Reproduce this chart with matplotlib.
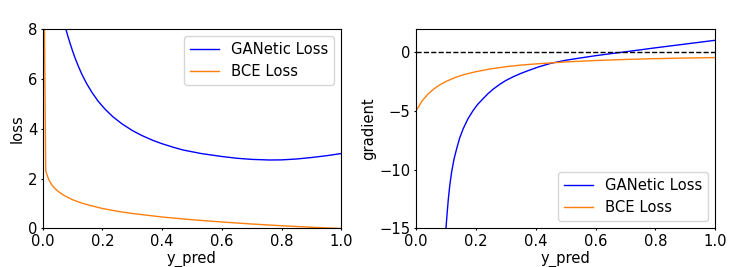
import matplotlib
matplotlib.use("Agg")
import matplotlib.pyplot as plt

# loss curves (left panel)
ganetic_x = [0.07, 0.077, 0.084, 0.091, 0.1, 0.108, 0.119, 0.131, 0.147, 0.164, 0.185,
             0.209, 0.235, 0.265, 0.3, 0.332, 0.37, 0.40, 0.44, 0.47, 0.53, 0.6,
             0.65, 0.7, 0.76, 0.8, 0.85, 0.9, 0.95, 1.0]
ganetic_loss = [8.4, 8.0, 7.7, 7.43, 7.1, 6.83, 6.5, 6.17, 5.8, 5.46, 5.1,
                4.77, 4.47, 4.19, 3.92, 3.72, 3.52, 3.39, 3.24, 3.14, 3.0, 2.88,
                2.81, 2.765, 2.74, 2.745, 2.78, 2.84, 2.91, 3.0]

bce_x = [0.0, 0.01, 0.02, 0.03, 0.04, 0.05, 0.07, 0.1, 0.13, 0.15, 0.2, 0.25, 0.3,
         0.4, 0.5, 0.6, 0.7, 0.8, 0.9, 1.0]
bce_loss = [16.0, 2.30, 1.96, 1.75, 1.61, 1.50, 1.33, 1.15, 1.02, 0.95, 0.80, 0.69, 0.60,
            0.46, 0.35, 0.26, 0.18, 0.11, 0.05, 0.0]

# gradient curves (right panel)
ganetic_gx = [0.09, 0.1, 0.104, 0.108, 0.113, 0.119, 0.127, 0.136, 0.146, 0.158,
              0.173, 0.19, 0.206, 0.224, 0.24, 0.258, 0.28, 0.30, 0.325, 0.35,
              0.38, 0.41, 0.45, 0.5, 0.55, 0.6, 0.65, 0.7, 0.75, 0.8, 0.85,
              0.9, 0.95, 1.0]
ganetic_grad = [-18.5, -15.0, -13.7, -12.5, -11.3, -10.2, -9.1, -8.2, -7.3, -6.5,
                -5.7, -5.0, -4.45, -3.97, -3.55, -3.15, -2.74, -2.42, -2.1, -1.82,
                -1.53, -1.26, -0.96, -0.70, -0.50, -0.31, -0.14, 0.02, 0.19, 0.36,
                0.52, 0.68, 0.84, 1.0]

bce_gx = [0.0, 0.02, 0.04, 0.06, 0.08, 0.1, 0.13, 0.16, 0.2, 0.25, 0.3, 0.35,
          0.4, 0.5, 0.6, 0.7, 0.8, 0.9, 1.0]
bce_grad = [-5.0, -4.17, -3.57, -3.13, -2.78, -2.5, -2.17, -1.92, -1.67, -1.43,
            -1.25, -1.11, -1.01, -0.84, -0.72, -0.63, -0.56, -0.51, -0.47]

plt.rcParams['font.size'] = 10.6
plt.rcParams['xtick.major.size'] = 1.5
plt.rcParams['ytick.major.size'] = 1.5
plt.rcParams['xtick.major.pad'] = 2.5
plt.rcParams['ytick.major.pad'] = 2.5

fig = plt.figure(figsize=(7.47, 2.67), dpi=100)
ax1 = fig.add_axes([0.0572, 0.1442, 0.3997, 0.749])
ax2 = fig.add_axes([0.5569, 0.1442, 0.4007, 0.749])

ax1.plot(ganetic_x, ganetic_loss, color='blue', lw=1.0, label='GANetic Loss')
ax1.plot(bce_x, bce_loss, color='tab:orange', lw=1.0, label='BCE Loss')
ax1.set_xlim(0, 1)
ax1.set_ylim(0, 8)
ax1.set_xlabel('y_pred', labelpad=1)
ax1.set_ylabel('loss', labelpad=2)
ax1.legend(loc='upper right')

ax2.plot(ganetic_gx, ganetic_grad, color='blue', lw=1.0, label='GANetic Loss')
ax2.plot(bce_gx, bce_grad, color='tab:orange', lw=1.0, label='BCE Loss')
ax2.axhline(0, color='black', ls='--', lw=1.0)
ax2.set_xlim(0, 1)
ax2.set_ylim(-15, 2)
ax2.set_yticks([-15, -10, -5, 0])
ax2.set_xlabel('y_pred', labelpad=1)
ax2.set_ylabel('gradient', labelpad=2)
ax2.legend(loc='lower right')

plt.savefig("out.png")
plt.close(fig)
